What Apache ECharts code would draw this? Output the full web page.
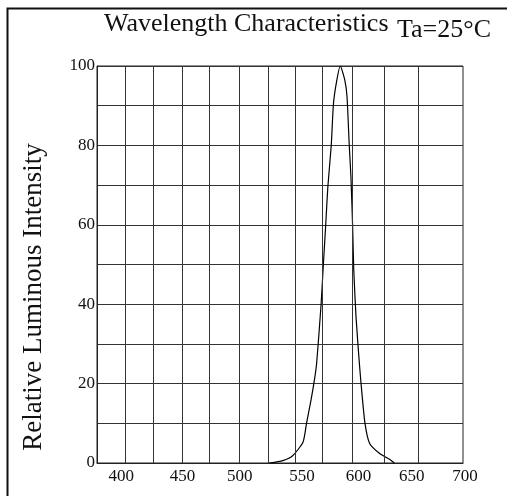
<!DOCTYPE html>
<html>
<head>
<meta charset="utf-8">
<script src="https://cdn.jsdelivr.net/npm/echarts@6/dist/echarts.min.js"></script>
<style>
  html, body { margin: 0; padding: 0; background: #fff; }
  #chart { width: 507px; height: 496px; }
</style>
</head>
<body>
<div id="chart"></div>
<script>
// wavelength (nm) and relative intensity (%)
var wavelength = [528, 540, 549, 558, 561, 565, 568, 570, 574, 576, 578, 580, 583, 585, 588, 591,
                  595, 597, 599, 600.5, 602, 603, 605, 608, 610, 613, 617, 626, 636, 639]
var intensity  = [0, 0.6, 1.9, 5.3, 9.9, 15.8, 20.8, 25, 40, 50, 59.5, 69.6, 80, 90.6, 96.5, 100,
                  96.5, 92.3, 80, 72, 59.5, 48.6, 36.8, 25, 18.3, 9.9, 5, 2.4, 0.7, 0]
// vertical grid lines of the original sheet (not evenly spaced)
var gridX = [400, 425, 451, 475, 501, 527, 551, 575, 602, 630, 660]
var xLabels = [400, 450, 500, 550, 600, 650, 700]
var yLabels = [0, 20, 40, 60, 80, 100]

var font = 'Liberation Serif'
// the printed tick labels sit a little off their ticks, nudge them (px)
var labelNudge = { 400: -4, 450: 1, 500: 2, 550: 8, 600: 8, 650: 5, 700: 2 }

var points = []
for (var i = 0; i < wavelength.length; i++) {
    points.push([wavelength[i], intensity[i]])
}

var rich = {}
xLabels.forEach(function (v) {
    var s = labelNudge[v] || 0
    rich['l' + v] = {
        fontFamily: font, fontSize: 17, color: '#111',
        padding: s >= 0 ? [0, 0, 0, 2 * s] : [0, -2 * s, 0, 0]
    }
})

var myChart = echarts.init(document.getElementById('chart'))
var option = {
    animation: false,
    backgroundColor: '#fff',
    title: {
        text: 'Wavelength Characteristics',
        left: 104,
        top: 11,
        padding: 0,
        textStyle: { fontFamily: font, fontSize: 26, fontWeight: 'normal', color: '#111' }
    },
    graphic: [
        {
            type: 'rect',
            shape: { x: 7.5, y: 8.5, width: 600, height: 600 },
            style: { fill: null, stroke: '#111', lineWidth: 2 },
            silent: true
        },
        {
            type: 'text',
            x: 397, y: 17,
            style: { text: 'Ta=25°C', font: '26px "Liberation Serif"', fill: '#111' }
        },
        {
            type: 'text',
            x: 34, y: 297,
            rotation: Math.PI / 2,
            style: {
                text: 'Relative Luminous Intensity',
                font: '27px "Liberation Serif"',
                fill: '#111',
                align: 'center',
                verticalAlign: 'middle'
            }
        }
    ],
    grid: {
        left: 97, top: 66, right: 44, bottom: 33,
        show: true, borderColor: '#222', borderWidth: 1,
        outerBoundsMode: 'none'
    },
    xAxis: {
        type: 'value',
        min: 375,
        max: 700,
        interval: 25,
        axisLine: { show: true, lineStyle: { color: '#222' } },
        axisTick: { show: false },
        splitLine: { show: false },
        axisLabel: {
            showMaxLabel: true,
            margin: 5,
            fontFamily: font, fontSize: 17, color: '#111',
            rich: rich,
            formatter: function (v) {
                return xLabels.indexOf(v) >= 0 ? '{l' + v + '|' + v + '}' : ''
            }
        }
    },
    yAxis: {
        type: 'value',
        min: 0,
        max: 100,
        interval: 10,
        axisLine: { show: true, lineStyle: { color: '#222' } },
        axisTick: { show: false },
        splitLine: { show: true, lineStyle: { color: '#333', width: 1 } },
        axisLabel: {
            margin: 2,
            fontFamily: font, fontSize: 17, color: '#111',
            formatter: function (v) {
                return yLabels.indexOf(v) >= 0 ? String(v) : ''
            }
        }
    },
    series: [
        {
            type: 'line',
            data: points,
            showSymbol: false,
            smooth: 0.2,
            lineStyle: { color: '#000', width: 1.2 },
            markLine: {
                silent: true,
                symbol: 'none',
                label: { show: false },
                lineStyle: { type: 'solid', color: '#333', width: 1 },
                data: gridX.map(function (v) { return { xAxis: v } })
            }
        }
    ]
}
myChart.setOption(option)
</script>
</body>
</html>
